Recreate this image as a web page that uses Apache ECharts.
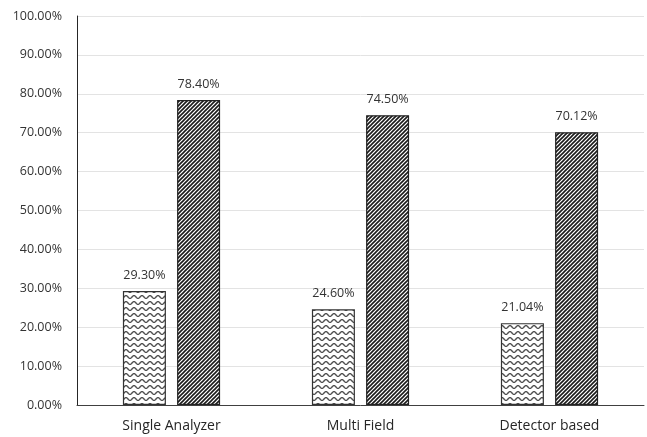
<!DOCTYPE html>
<html>
<head>
<meta charset="utf-8">
<script src="https://cdn.jsdelivr.net/npm/echarts@6/dist/echarts.min.js"></script>
<style>
  html, body { margin: 0; padding: 0; background: #fff; }
  #chart { width: 647px; height: 437px; }
</style>
</head>
<body>
<div id="chart"></div>
<script>
// Categories and the two series (percent values)
const categories = ['Single Analyzer', 'Multi Field', 'Detector based'];
const waveSeries = [29.30, 24.60, 21.04];
const stripeSeries = [78.40, 74.50, 70.12];
const yTicks = [0, 10, 20, 30, 40, 50, 60, 70, 80, 90, 100];

// Fill tile: horizontal waves
function makeWaveTile() {
  const c = document.createElement('canvas');
  c.width = 8; c.height = 6;
  const g = c.getContext('2d');
  g.fillStyle = '#ffffff';
  g.fillRect(0, 0, 8, 6);
  g.strokeStyle = '#505050';
  g.lineWidth = 1.4;
  g.beginPath();
  for (let x = -1; x <= 9; x += 0.25) {
    const y = 3 + 1.4 * Math.sin((x / 8) * Math.PI * 2);
    if (x === -1) g.moveTo(x, y); else g.lineTo(x, y);
  }
  g.stroke();
  return c;
}

// Fill tile: dense upward diagonal stripes
function makeStripeTile() {
  const c = document.createElement('canvas');
  c.width = 4; c.height = 4;
  const g = c.getContext('2d');
  g.fillStyle = '#ffffff';
  g.fillRect(0, 0, 4, 4);
  g.strokeStyle = '#1a1a1a';
  g.lineWidth = 1.6;
  g.beginPath();
  g.moveTo(-1, 5); g.lineTo(5, -1);
  g.moveTo(-3, 3); g.lineTo(3, -3);
  g.moveTo(1, 7); g.lineTo(7, 1);
  g.stroke();
  return c;
}

const fontFamily = '"Open Sans", Lato, sans-serif';
const chart = echarts.init(document.getElementById('chart'));

const labelFmt = p => p.value.toFixed(2) + '%';

chart.setOption({
  animation: false,
  backgroundColor: '#ffffff',
  grid: { left: 77, right: 3, top: 16, bottom: 32, containLabel: false },
  xAxis: {
    type: 'category',
    data: categories,
    axisLine: { lineStyle: { color: '#404040', width: 1 } },
    axisTick: { show: false },
    axisLabel: { color: '#262626', fontSize: 14, fontFamily, margin: 14 }
  },
  yAxis: {
    type: 'value',
    min: yTicks[0],
    max: yTicks[yTicks.length - 1],
    interval: 10,
    axisLine: { show: true, lineStyle: { color: '#262626', width: 1 } },
    axisTick: { show: false },
    splitLine: { lineStyle: { color: '#e3e3e3', width: 1 } },
    axisLabel: {
      color: '#333333', fontSize: 12.5, fontFamily, margin: 15,
      formatter: v => v.toFixed(2) + '%'
    }
  },
  series: [
    {
      type: 'bar',
      data: waveSeries,
      barWidth: 43,
      barGap: '26%',
      itemStyle: {
        color: { image: makeWaveTile(), repeat: 'repeat' },
        borderColor: '#333333',
        borderWidth: 1.2
      },
      label: {
        show: true, position: 'top', distance: 9,
        color: '#333333', fontSize: 12.5, fontFamily, formatter: labelFmt
      }
    },
    {
      type: 'bar',
      data: stripeSeries,
      barWidth: 43,
      itemStyle: {
        color: { image: makeStripeTile(), repeat: 'repeat' },
        borderColor: '#222222',
        borderWidth: 1.2
      },
      label: {
        show: true, position: 'top', distance: 9,
        color: '#333333', fontSize: 12.5, fontFamily, formatter: labelFmt
      }
    }
  ]
});
</script>
</body>
</html>
